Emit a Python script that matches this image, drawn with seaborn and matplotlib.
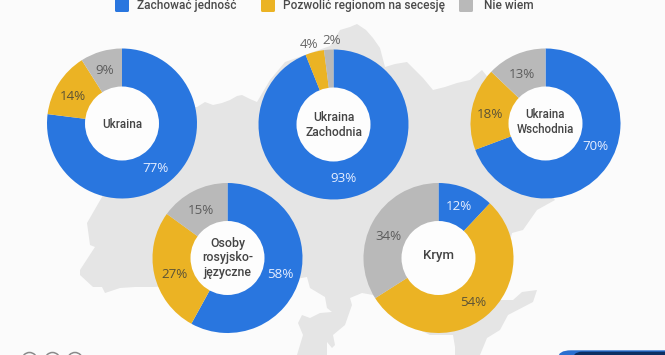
import matplotlib
matplotlib.use("Agg")
import matplotlib.pyplot as plt
from matplotlib.patches import Circle, FancyBboxPatch, Polygon
import seaborn as sns

# ---- data ----
series_names = ["Zachować jedność", "Pozwolić regionom na secesję", "Nie wiem"]
group_names = ["Ukraina", "Ukraina\nZachodnia", "Ukraina\nWschodnia", "Osoby\nrosyjsko-\njęzyczne", "Krym"]
ukraina = [77, 14, 9]
zachodnia = [93, 4, 2]
wschodnia = [70, 18, 13]
rosyjskojezyczne = [58, 27, 15]
krym = [12, 54, 34]
group_values = [ukraina, zachodnia, wschodnia, rosyjskojezyczne, krym]

# ---- style / layout (pixels of the 665x355 canvas) ----
W, H = 665, 355
BG = "#fbfbfb"
MAP = "#e5e5e5"
palette = sns.color_palette(["#2976df", "#ebb324", "#b9b9b9"])
sns.set_theme(style="white", rc={"figure.facecolor": BG, "savefig.facecolor": BG})
plt.rcParams["font.family"] = ["Roboto", "DejaVu Sans"]

centers = [(122, 123.5), (333.5, 124.5), (545.5, 123.5), (227.5, 258), (438.5, 258)]
RADIUS = 75
HOLE = 37
center_label_y = [124, 125, 122, 258, 256]
center_label_size = [8.4, 8.7, 8.3, 8.9, 9.5]
pct_px = [
    [(155, 169), (73, 96), (105, 71)],
    [(343, 178), (309, 44), (332, 41)],
    [(595, 146), (490, 114), (522, 74)],
    [(280, 274), (174, 275), (201, 211)],
    [(459, 207), (473, 303), (388, 237)],
]
pct_colors = ["#e6eeff", "#5b5236", "#5c5c5c"]
outside_color = "#666666"

map_outline = [
    (60, 120), (120, 108), (197, 107), (205, 102), (213, 105), (222, 103), (230, 100), (237, 96), (242, 95),
    (250, 99), (257, 102), (270, 80), (285, 62), (305, 55), (330, 46), (340, 30), (350, 27), (357, 24),
    (366, 30), (373, 38), (380, 48), (385, 67), (395, 64), (407, 62), (415, 70), (423, 78), (433, 90),
    (445, 87), (457, 83), (470, 80), (482, 70), (490, 80), (520, 150), (555, 200), (537, 210), (523, 230),
    (512, 233), (505, 260), (500, 300), (513, 300), (522, 292), (537, 290), (533, 302), (508, 315), (500, 330),
    (487, 338), (480, 355), (455, 355), (455, 347), (453, 335), (430, 335), (400, 320), (373, 295), (362, 293),
    (350, 298), (352, 305), (345, 325), (333, 335), (335, 345), (332, 348), (327, 342), (327, 355), (297, 355),
    (303, 335), (298, 323), (302, 315), (310, 318), (320, 313), (332, 312), (327, 308), (325, 297), (310, 288),
    (307, 277), (290, 280), (153, 287), (135, 287), (120, 288), (105, 293), (102, 287), (93, 287), (80, 275),
    (80, 270), (93, 250), (95, 247), (90, 245), (87, 223), (102, 197), (110, 170), (60, 150),
]


def px_axes(x0, y0, x1, y1):
    return fig.add_axes([x0 / W, 1 - y1 / H, (x1 - x0) / W, (y1 - y0) / H])


def px_text(x, y, s, **kw):
    fig.text(x / W, 1 - y / H, s, ha="center", va="center", **kw)


fig = plt.figure(figsize=(W / 100, H / 100), dpi=100, facecolor=BG)

# background: map silhouette, icons, footer band
bg = fig.add_axes([0, 0, 1, 1], zorder=-1)
bg.set_xlim(0, W)
bg.set_ylim(H, 0)
bg.axis("off")
bg.add_patch(Polygon(map_outline, closed=True, fc=MAP, ec="none"))
for cx in (29.5, 52.5, 75):
    bg.add_patch(Circle((cx, 360), 7.5, fc="none", ec="#8a8a8a", lw=1.1))
bg.add_patch(FancyBboxPatch((558, 350.3), 130, 30, boxstyle="round,pad=0,rounding_size=13",
                            fc="#2a6fd0", ec="none", mutation_aspect=0.6))
bg.add_patch(FancyBboxPatch((572, 351.7), 130, 30, boxstyle="round,pad=0,rounding_size=10",
                            fc="#0c2f63", ec="none"))

# legend
legend_box_x = [114, 260, 458]
legend_text_x = [137, 283, 484]
legend_text_y = [5.5, 5.5, 5.5]
for name, color, bx, tx, ty in zip(series_names, palette, legend_box_x, legend_text_x, legend_text_y):
    bg.add_patch(FancyBboxPatch((bx + 1, -4), 14, 16, boxstyle="round,pad=0,rounding_size=1.5", fc=color, ec="none"))
    fig.text(tx / W, 1 - ty / H, name, ha="left", va="center", fontsize=8.6, color="#4a4a4a",
             fontweight="medium")

# donuts
for name, vals, (cx, cy), ly, size, pcts in zip(group_names, group_values, centers, center_label_y,
                                                center_label_size, pct_px):
    ax = px_axes(cx - RADIUS, cy - RADIUS, cx + RADIUS, cy + RADIUS)
    ax.patch.set_alpha(0)
    ax.pie(vals, colors=palette, startangle=90, counterclock=False, radius=1,
           wedgeprops={"linewidth": 0})
    ax.set_xlim(-1, 1)
    ax.set_ylim(-1, 1)
    ax.add_patch(Circle((0, 0), HOLE / RADIUS, fc="#fdfdfd", ec="none", zorder=5))
    px_text(cx, ly, name, fontsize=size, color="#444444", fontweight="medium", linespacing=1.15)
    for v, (px, py), col in zip(vals, pcts, pct_colors):
        c = outside_color if py < cy - RADIUS else col
        px_text(px, py, f"{v}%", fontsize=9.6, color=c, fontfamily=["Open Sans", "DejaVu Sans"])

fig.savefig("out.png", dpi=100, facecolor=BG)
